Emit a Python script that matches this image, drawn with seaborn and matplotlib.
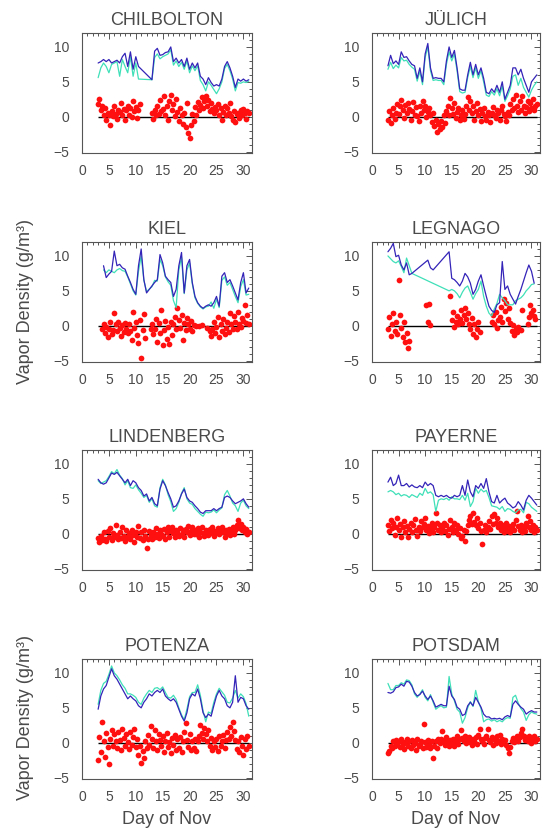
import numpy as np
import pandas as pd
import matplotlib
matplotlib.use('Agg')
from matplotlib import pyplot as plt
from matplotlib.ticker import MultipleLocator
import seaborn as sns

nan = np.nan

# days of November: lines every half day, red points every quarter day
LINE_DAYS = np.arange(3.0, 31.01, 0.5)
RED_DAYS = np.arange(3.0, 31.01, 0.25)

STATIONS = ['CHILBOLTON', 'JÜLICH', 'KIEL', 'LEGNAGO',
            'LINDENBERG', 'PAYERNE', 'POTENZA', 'POTSDAM']

chil_blue = [7.7, 7.9, 8.2, 7.9, 8.2, 7.7, 7.9, 8.1, 7.7, 8.6,
             9.1, 7.2, 9.3, 6.8, 8.6, 7.2, nan, nan, nan, nan,
             5.3, 9.4, 9.8, 8.8, 8.9, 9.2, 9.3, 10.0, 7.9, 8.4,
             7.7, 8.2, 7.2, 8.4, 6.8, 7.7, 7.0, 7.7, 5.8, 5.4,
             4.6, 5.6, 4.9, 4.4, 4.6, 4.4, 5.4, 7.2, 7.9, 7.0,
             5.8, 4.2, 5.4, 5.1, 5.4, 5.1, 5.3]
chil_cyan = [5.6, 7.0, 7.7, 7.2, 6.3, 7.5, 7.7, 7.9, 5.8, 8.2,
             7.2, 6.3, 8.6, 5.8, 7.7, 5.4, nan, nan, nan, nan,
             5.3, 8.5, 9.0, 8.3, 8.6, 8.8, 9.0, 9.6, 7.4, 8.0,
             7.2, 7.8, 6.8, 8.0, 6.3, 7.3, 6.6, 7.3, 5.2, 4.6,
             3.7, 5.0, 4.5, 3.9, 3.3, 4.0, 5.0, 6.9, 7.5, 6.6,
             5.4, 3.7, 4.9, 4.8, 5.0, 4.9, 5.1]
chil_red = [1.8, 2.6, 0.9, 1.5, 0.2, 1.2, -0.5, 0.6,
            0.3, -1.2, 0.8, 0.1, 1.5, 0.4, -0.3, 1.0,
            0.7, 1.9, 0.2, 1.1, -0.4, 0.9, 1.6, 0.3,
            1.2, 0.0, 2.2, 0.8, 1.4, -0.2, 0.9, 1.8,
            nan, nan, nan, nan, nan, nan, nan, nan,
            0.5, -0.3, 0.9, 0.2, 1.6, 0.4, 2.4, 0.8,
            1.1, 2.9, 0.3, 1.5, -0.4, 2.2, 3.1, 0.9,
            1.8, 0.1, 2.6, 0.7, -0.6, 1.3, 0.2, -1.0,
            0.6, -1.5, 1.9, -2.3, -3.0, -1.2, 0.4, -0.6,
            1.4, 0.2, 2.1, 0.9, 1.7, 2.8, 1.2, 2.3,
            3.0, 1.6, 2.4, 0.8, 1.9, 1.1, 0.5, 1.4,
            0.9, 1.8, 0.3, 1.2, -0.5, 0.7, 1.6, 0.2,
            1.3, 0.6, 1.9, 0.1, -0.4, 0.8, -0.7, 0.4,
            0.6, -0.2, 0.9, 0.3, 1.1, 0.5, -0.3, 0.8,
            0.6]

jul_blue = [7.3, 8.8, 7.6, 8.0, 7.5, 9.3, 8.5, 8.6, 8.0, 7.5,
            7.3, 5.5, 7.0, 5.0, 9.0, 10.5, 7.0, 5.5, 5.6, 5.5,
            5.5, 5.0, 8.0, 10.0, 8.5, 9.5, 7.0, 4.0, 3.8, 3.8,
            6.0, 7.8, 6.0, 7.5, 6.0, 7.0, 5.5, 3.5, 3.3, 4.0,
            3.5, 4.5, 3.5, 5.0, 2.5, 3.5, 4.5, 7.0, 7.0, 6.0,
            6.8, 5.5, 4.5, 3.5, 5.0, 5.5, 6.0]
jul_cyan = [6.8, 7.8, 6.9, 7.4, 7.0, 8.5, 8.0, 8.1, 7.5, 7.1,
            6.8, 5.1, 6.5, 4.6, 8.5, 10.0, 6.6, 5.2, 5.3, 5.2,
            5.2, 4.6, 7.5, 9.3, 8.0, 9.0, 6.6, 3.6, 3.4, 3.5,
            5.6, 7.2, 5.6, 7.0, 5.5, 6.6, 5.0, 3.1, 2.9, 3.6,
            3.1, 4.0, 3.0, 4.4, 2.2, 3.0, 4.0, 5.8, 6.0, 4.5,
            5.5, 4.2, 3.5, 2.8, 3.8, 4.5, 5.0]
jul_red = [-0.5, 0.8, -0.9, 0.2, 1.2, -0.3, 0.6, 1.8,
           0.4, 1.5, 2.4, 0.9, -0.2, 1.7, 0.6, 2.0,
           1.1, -0.4, 0.8, 2.1, 0.3, 1.4, 0.1, -0.6,
           1.6, 0.5, 2.3, 0.9, 1.5, -0.1, 0.7, 1.2,
           0.2, -0.8, 0.6, -1.4, -0.5, -2.2, -1.0, -1.8,
           -0.6, -1.5, 0.2, -0.9, 0.8, 1.6, 0.3, 2.7,
           1.2, 0.4, 1.9, -0.2, 0.7, 1.3, -0.5, 0.2,
           0.9, -0.3, 0.4, 1.6, 2.8, 1.0, 2.2, 0.6,
           1.5, -0.4, 0.8, 2.0, 0.3, 1.1, -0.6, 0.5,
           1.2, 0.1, -0.5, 0.7, 0.2, -0.8, 0.6, 1.4,
           0.3, -0.2, 1.0, 0.5, -0.4, 0.9, 1.6, 0.4,
           0.1, -0.6, 0.7, 0.3, 1.8, 0.9, 2.6, 1.3,
           3.1, 1.5, 0.7, 2.2, 1.0, 2.9, 1.6, 0.6,
           1.4, 2.3, 0.8, 1.9, 1.2, 2.5, 0.9, 1.6,
           1.8]

kiel_blue = [nan, nan, 8.6, 6.9, 7.4, 7.8, 10.7, 8.6, 8.8, 8.3,
             8.1, 7.1, 6.2, 5.2, 4.5, 8.6, 11.0, 6.6, 4.7, nan,
             5.7, 6.2, 6.6, 10.2, 9.0, 7.1, 6.6, 6.2, 4.2, 5.2,
             8.6, 10.5, 4.7, 8.6, 9.5, 6.2, 4.2, 3.3, 2.8, 2.5,
             2.8, 3.0, 2.8, 3.3, 4.2, 2.8, 7.1, 7.6, 6.2, 6.6,
             5.7, 4.7, 3.7, 6.2, 7.6, 4.7, 5.4]
kiel_cyan = [nan, nan, 8.0, 7.6, 8.0, 7.8, 7.6, 8.0, 8.2, 7.9,
             7.8, 7.0, 6.0, 5.0, 4.4, 7.8, 10.0, 6.5, 4.9, nan,
             5.6, 6.5, 6.4, 9.5, 8.6, 7.0, 6.3, 5.8, 3.6, 2.6,
             8.0, 9.8, 4.6, 8.0, 9.0, 6.0, 4.0, 3.2, 2.7, 2.4,
             2.7, 2.8, 3.4, 2.5, 3.8, 2.6, 6.5, 7.0, 5.8, 6.2,
             5.2, 4.2, 3.3, 5.6, 6.6, 4.4, 4.5]
kiel_red = [nan, nan, nan, -0.5, 0.3, -1.0, -0.2, -1.6,
            -0.4, 0.5, -1.2, -0.6, 1.8, 0.2, -0.8, 0.6,
            -0.3, -1.5, 0.1, -0.9, 0.4, -0.4, -1.1, 0.2,
            -0.7, -2.0, 1.9, -0.3, 0.5, -1.4, -2.5, 0.8,
            -4.6, -0.6, 1.7, -1.8, nan, nan, nan, -0.5,
            0.3, -1.2, -0.4, 0.9, -2.4, 0.4, -1.0, 2.3,
            -2.8, -0.6, 0.7, -1.9, -0.2, -2.6, 0.5, -1.3,
            0.2, 1.2, -0.5, 2.6, 0.8, -0.3, 1.6, -2.0,
            0.4, -0.6, 1.1, 0.3, -0.4, 0.7, -0.8, 0.1,
            nan, 0.0, nan, -0.1, nan, 0.1, nan, nan,
            nan, -0.3, nan, -0.8, -1.5, -0.4, 0.6, -1.0,
            -0.2, 1.2, -1.6, 0.3, -0.7, 0.9, -1.2, -0.3,
            0.5, -0.9, 1.8, 0.2, -0.5, 1.4, 0.6, -0.4,
            1.9, 0.3, -0.2, 1.1, 0.7, 3.0, 0.4, 1.5,
            0.2]

leg_blue = [10.6, 11.1, 11.8, 9.9, 10.1, 8.7, 8.0, 9.0, 7.3, 7.5,
            nan, nan, nan, nan, nan, 9.4, 8.3, 8.0, nan, nan,
            nan, nan, nan, 10.6, 6.8, 6.6, 6.2, 5.7, 6.4, 7.5,
            7.0, 6.1, 4.5, 5.2, 6.4, 7.3, 5.7, 4.2, 2.8, 2.2,
            1.9, 3.0, 3.3, 9.2, 5.2, 5.7, 4.5, 3.8, 3.1, 4.2,
            5.2, 6.4, 7.6, 8.7, 7.8, 6.1, nan]
leg_cyan = [10.0, 9.6, 9.2, 9.0, 9.3, 8.5, 7.6, 9.7, 8.6, 7.5,
            nan, nan, nan, nan, nan, nan, nan, nan, nan, nan,
            nan, nan, nan, 5.0, 5.2, 5.0, 4.6, 4.0, 4.8, 5.4,
            5.7, 4.8, 3.8, 4.6, 5.2, 6.4, 4.2, 2.8, 1.8, 1.4,
            2.4, 3.2, 4.5, 4.0, 3.6, 3.0, 3.0, 3.0, 3.6, 3.8,
            4.0, 4.4, 5.0, 5.4, 5.9, 6.0, nan]
leg_red = [-0.5, 1.2, -1.5, 0.3, 1.8, -0.8, 0.6, -1.2,
           6.6, 1.5, -0.3, -1.6, 0.5, -2.4, -1.0, -3.2,
           -2.2, nan, nan, nan, nan, nan, nan, nan,
           nan, nan, nan, nan, nan, 2.9, 0.6, 3.1,
           0.1, nan, nan, nan, nan, nan, nan, nan,
           nan, nan, nan, nan, nan, nan, nan, 4.2,
           0.8, 1.9, -0.2, 0.5, 1.4, 0.2, 1.0, 2.2,
           0.4, 1.6, 2.5, 0.9, 1.8, 0.3, -0.5, 1.1,
           -1.2, 0.2, -1.6, -0.4, 0.6, -0.9, nan, nan,
           nan, nan, nan, nan, nan, nan, 0.5, 1.6,
           0.2, 1.9, -0.3, 0.8, 1.2, 2.7, 0.5, 3.8,
           2.1, 3.3, 1.0, 2.6, 0.4, -0.8, 0.1, -1.3,
           -0.4, -0.9, -0.2, nan, -0.6, 2.3, nan, nan,
           nan, 0.3, 1.2, 2.9, 1.8, 2.2, 1.4, 0.9,
           nan]

lind_blue = [7.8, 7.3, 7.1, 7.3, 8.0, 8.7, 8.5, 8.8, 8.3, 7.8,
             7.3, 7.8, 6.9, 7.6, 7.3, 6.6, 6.2, 5.4, 5.7, 4.7,
             5.2, 4.3, 4.0, 6.4, 7.6, 6.9, 5.9, 5.0, 3.8, 4.0,
             4.7, 5.7, 6.4, 5.2, 4.7, 4.5, 4.0, 3.6, 3.1, 2.9,
             3.3, 3.3, 3.3, 3.6, 3.3, 3.6, 3.8, 5.2, 5.4, 5.2,
             4.7, 4.3, 4.5, 4.7, 5.0, 4.3, 3.8]
lind_cyan = [7.6, 7.2, 7.4, 7.6, 8.2, 8.9, 8.6, 9.2, 8.4, 7.9,
             7.0, 7.6, 6.6, 6.5, 7.0, 6.3, 5.8, 5.2, 5.5, 4.5,
             5.0, 4.0, 3.8, 6.6, 7.8, 7.0, 5.6, 4.6, 3.2, 3.6,
             4.5, 5.8, 6.6, 5.0, 4.4, 4.2, 3.6, 3.2, 2.8, 2.5,
             3.1, 3.0, 3.1, 3.4, 3.0, 3.4, 3.7, 5.6, 6.2, 5.4,
             4.4, 4.0, 3.2, 4.4, 4.8, 4.0, 3.6]
lind_red = [-0.6, -1.2, -0.3, -0.9, 0.2, -0.7, -1.1, 0.4,
            -0.4, 0.8, -0.9, 0.1, -0.5, 1.2, -0.2, -0.8,
            0.3, -0.6, 0.9, -0.3, -1.0, 0.5, -0.4, 0.1,
            -0.8, 0.6, -0.2, -1.2, 0.3, -0.5, 1.1, -0.6,
            0.2, -0.9, 0.5, -0.3, -2.0, -0.7, 0.4, -0.2,
            -0.8, 0.3, -0.4, 0.8, -0.1, -0.6, 0.5, 0.0,
            -0.3, 0.7, -0.7, 0.2, 0.9, -0.4, 0.4, 1.0,
            0.1, -0.5, 0.6, 0.2, -0.3, 0.8, 0.0, 0.5,
            -0.4, 0.7, 0.2, 1.1, -0.2, 0.4, 0.9, -0.1,
            0.5, 0.0, 0.8, -0.4, 0.3, 1.0, 0.1, -0.3,
            0.6, 0.2, -0.2, 0.7, 0.1, 0.9, -0.3, 0.4,
            0.3, 0.8, -0.1, 0.5, 1.0, 0.2, -0.4, 0.6,
            0.1, 0.7, -0.2, 0.4, 0.9, 0.0, 0.6, 1.3,
            1.9, 0.8, 1.4, 0.5, 0.9, 0.2, 0.7, -0.1,
            0.3]

pay_blue = [7.4, 8.1, 6.9, 7.2, 8.4, 6.9, 6.9, 7.2, 6.7, 7.0,
            6.7, 6.6, 6.9, 6.6, 7.4, 6.9, 7.2, 6.9, 5.5, 5.3,
            5.5, 5.3, 5.5, 5.2, 5.1, 5.5, 5.3, 5.5, 6.9, 5.5,
            7.7, 6.0, 5.3, 6.9, 6.5, 7.2, 6.5, 7.9, 6.0, 4.6,
            4.4, 5.5, 4.4, 4.8, 5.1, 4.4, 4.1, 3.7, 3.9, 4.6,
            4.1, 3.4, 4.8, 5.5, 5.1, 4.6, 4.1]
pay_cyan = [6.0, 6.2, 6.0, 5.6, 5.8, 5.4, 5.6, 5.5, 5.2, 5.6,
            5.4, 5.2, 5.8, 5.5, 6.5, 5.8, 6.0, 5.6, 3.2, 4.8,
            5.0, 4.9, 5.1, 4.8, 5.3, 5.0, 5.0, 4.9, 5.5, 4.8,
            5.8, 3.9, 4.6, 6.5, 5.8, 6.4, 6.0, 6.2, 5.2, 4.0,
            3.9, 3.8, 3.5, 3.9, 3.2, 3.6, 3.5, 3.2, 3.0, 3.4,
            3.5, 3.0, 4.5, 4.3, 3.8, 3.5, 3.2]
pay_red = [1.2, 0.4, 2.0, 0.8, 1.5, -0.2, 1.0, 2.3,
           0.6, 1.4, -0.4, 0.9, 1.8, 0.3, 1.1, -0.5,
           0.7, 1.6, 0.2, 1.2, 2.1, 0.5, -0.3, 1.0,
           0.4, 1.8, 0.9, 1.4, 2.2, 0.6, 1.1, 0.1,
           0.8, 1.5, 0.3, 1.0, 2.9, 1.6, 0.5, 1.2,
           0.2, 0.9, 1.6, 0.4, 1.2, -0.2, 0.7, 1.9,
           1.0, 0.3, 1.5, 0.6, 1.3, 0.0, 0.8, -0.6,
           -0.3, 0.5, -1.0, 0.4, 1.2, 1.9, 2.6, 1.4,
           2.9, 1.7, 1.2, 2.3, 0.8, 1.5, 0.4, -1.5,
           0.6, 1.3, 0.2, 1.0, 1.8, 0.7, 2.5, 1.4,
           2.8, 1.6, 2.2, 0.9, 1.5, 0.5, 1.2, 0.3,
           0.9, 1.6, 0.4, 1.1, 0.2, 0.8, 1.4, 0.5,
           2.0, 3.2, 1.1, 0.6, 1.3, 0.2, 0.9, 0.4,
           1.5, 2.6, 1.0, 1.8, 0.6, 1.3, 0.3, 0.9,
           0.5]

pot_blue = [4.8, 6.7, 7.7, 8.2, 9.4, 10.6, 9.6, 9.1, 8.4, 7.7,
            7.0, 6.3, 6.7, 6.3, 6.0, 5.3, 5.0, 5.8, 6.3, 7.0,
            6.7, 7.2, 7.5, 7.2, 7.7, 6.7, 6.3, 6.0, 6.3, 5.8,
            4.8, 3.8, 3.1, 4.3, 6.3, 7.0, 6.7, 7.7, 6.3, 4.3,
            3.6, 4.1, 3.8, 5.3, 6.7, 7.5, 6.7, 6.3, 5.3, 5.0,
            5.8, 9.6, 5.8, 6.5, 6.3, 5.3, 4.8]
pot_cyan = [5.5, 7.5, 8.5, 8.8, 9.8, 11.0, 10.0, 9.6, 9.0, 8.3,
            7.8, 7.0, 7.0, 6.8, 6.5, 5.8, 5.5, 6.4, 7.0, 7.5,
            7.2, 7.8, 7.9, 7.6, 8.0, 7.2, 6.5, 6.4, 6.8, 6.2,
            5.0, 4.0, 3.3, 4.8, 6.6, 7.2, 7.2, 8.3, 6.8, 4.6,
            3.0, 4.4, 4.2, 5.8, 7.0, 7.8, 7.3, 6.8, 5.8, 5.7,
            6.4, 7.5, 6.4, 7.0, 6.6, 5.6, 3.8]
pot_red = [-2.5, 0.8, -1.4, 2.9, 0.3, -2.0, 1.4, -0.6,
           -3.0, 0.6, 1.8, -0.4, 1.2, 0.2, -0.8, 1.5,
           0.4, -1.0, 1.9, 0.7, -0.5, 1.3, 0.1, -0.9,
           1.6, -0.3, 0.8, 2.0, -0.6, 0.5, -1.8, -0.4,
           -2.9, -1.2, -2.2, 0.3, -0.8, 1.1, -0.3, 2.4,
           0.6, -0.7, 1.8, 0.2, -1.1, 1.3, 0.4, -0.5,
           0.9, -1.3, 0.3, 1.4, -0.6, 0.1, -1.5, 0.7,
           -0.3, 1.1, -1.0, 0.5, -0.7, 0.8, -1.4, 0.2,
           1.5, 2.8, 0.4, -0.6, 1.2, -1.1, 0.3, -0.8,
           0.6, -1.2, 0.2, 1.0, 2.6, 1.4, 0.5, 2.1,
           1.2, 0.3, 1.8, -0.5, 0.7, -1.0, 0.2, -0.6,
           0.5, -1.2, 0.9, -0.4, 0.2, 1.1, -0.8, 0.4,
           1.5, 0.6, 2.2, 1.0, 3.0, 1.7, 0.4, -0.9,
           0.3, -1.4, 0.8, -0.5, -1.8, 0.6, -0.9, 1.0,
           -0.4]

pdm_blue = [7.2, 7.1, 7.3, 7.9, 8.0, 8.4, 8.1, 8.8, 8.7, 8.1,
            7.2, 6.7, 6.9, 7.4, 6.7, 6.2, 6.7, 6.0, 5.1, 5.3,
            5.5, 5.3, 5.3, 8.1, 6.7, 6.2, 5.1, 4.8, 3.9, 4.1,
            5.3, 5.8, 5.3, 6.5, 5.8, 5.1, 4.1, 3.7, 3.7, 3.4,
            3.5, 3.4, 3.5, 3.3, 3.7, 3.9, 3.7, 5.5, 6.0, 5.5,
            5.1, 4.8, 4.1, 4.4, 4.6, 4.4, 4.4]
pdm_cyan = [8.5, 7.6, 7.6, 8.2, 8.2, 8.6, 8.4, 9.0, 8.9, 8.3,
            7.0, 6.5, 7.0, 7.6, 6.5, 6.0, 6.9, 5.8, 4.8, 5.1,
            5.3, 5.0, 5.1, 9.5, 7.0, 6.0, 4.8, 4.4, 2.8, 3.6,
            5.0, 5.9, 5.2, 7.5, 5.9, 4.9, 3.0, 3.3, 3.4, 3.1,
            3.3, 3.0, 3.2, 3.0, 3.4, 3.6, 3.5, 6.5, 6.8, 5.7,
            4.9, 4.4, 3.2, 4.0, 4.4, 4.2, 4.1]
pdm_red = [-1.5, -1.2, -0.4, -0.8, 0.2, -0.5, 0.4, -0.2,
           0.3, -0.6, 0.5, -0.2, -0.9, 0.1, 0.6, -0.4,
           0.2, -0.7, 0.4, -0.3, 0.0, -1.0, 0.5, -0.5,
           -0.2, 0.3, -0.8, 2.7, 0.1, -0.6, 0.4, -0.3,
           -0.7, 0.2, -2.2, -0.4, 0.3, -0.8, 0.5, 0.0,
           0.6, 1.7, 0.2, -0.3, 0.8, 0.1, -0.5, 0.4,
           0.0, 0.6, -0.4, 0.3, 0.9, -0.2, 0.5, 1.8,
           0.7, 0.2, 0.9, -0.1, 0.4, 0.8, 0.1, -0.3,
           0.5, 0.2, 0.8, -0.2, 1.1, 1.9, 0.6, 0.3,
           -0.2, 0.7, 1.0, 2.0, 0.4, 0.1, 0.8, -0.3,
           0.5, 0.0, 0.9, 0.3, 1.1, -0.2, 0.6, 0.2,
           0.4, -0.3, -0.8, -1.5, -0.6, 0.2, 0.7, 0.1,
           0.6, 1.0, 0.3, 0.8, 1.4, 2.0, 0.9, 0.4,
           0.7, 0.2, 1.0, 0.5, -0.1, 0.6, 0.9, 0.3,
           0.5]

BLUE = [chil_blue, jul_blue, kiel_blue, leg_blue, lind_blue, pay_blue, pot_blue, pdm_blue]
CYAN = [chil_cyan, jul_cyan, kiel_cyan, leg_cyan, lind_cyan, pay_cyan, pot_cyan, pdm_cyan]
RED = [chil_red, jul_red, kiel_red, leg_red, lind_red, pay_red, pot_red, pdm_red]

sns.set_style('white')
plt.rcParams['font.family'] = ['Liberation Sans', 'DejaVu Sans']
TXT = '#4a4a4a'

fig = plt.figure(figsize=(5.49, 8.32), dpi=100)
W, H = 549.0, 832.0
col_left = [82, 372]
col_width = [170, 168]
row_bottom = [153, 362, 570, 779]
ax_h = 120

for i, name in enumerate(STATIONS):
    r, c = i // 2, i % 2
    ax = fig.add_axes([col_left[c] / W, 1 - row_bottom[r] / H,
                       col_width[c] / W, ax_h / H])

    line_df = pd.DataFrame({'day': LINE_DAYS, 'blue': BLUE[i], 'cyan': CYAN[i]})
    red_df = pd.DataFrame({'day': RED_DAYS, 'val': RED[i]}).dropna()

    ax.hlines(0, LINE_DAYS[0], LINE_DAYS[-1], color='black', lw=1.0, zorder=1)
    sns.scatterplot(data=red_df, x='day', y='val', ax=ax, color='#ff1010',
                    s=17, linewidth=0, marker='o', zorder=2, legend=False)
    cdf = line_df[['day', 'cyan']].dropna()
    sns.lineplot(data=cdf, x='day', y='cyan', ax=ax, color='#3fe0b8',
                 lw=0.9, estimator=None, sort=False, zorder=3)
    bdf = line_df[['day', 'blue']].dropna()
    sns.lineplot(data=bdf, x='day', y='blue', ax=ax, color='#3424b8',
                 lw=0.9, estimator=None, sort=False, zorder=4)

    ax.set_xlim(0, 31.6)
    ax.set_ylim(-5.2, 12)
    ax.xaxis.set_major_locator(MultipleLocator(5))
    ax.xaxis.set_minor_locator(MultipleLocator(1))
    ax.yaxis.set_major_locator(MultipleLocator(5))
    ax.yaxis.set_minor_locator(MultipleLocator(1))
    ax.tick_params(which='both', direction='in', top=True, right=True,
                   color='#555555', width=0.7)
    ax.tick_params(which='major', length=4, labelsize=10, labelcolor=TXT)
    ax.tick_params(axis='x', which='major', pad=8)
    ax.tick_params(axis='y', which='major', pad=9)
    ax.tick_params(which='minor', length=2)
    for sp in ax.spines.values():
        sp.set_color('#555555')
        sp.set_linewidth(0.8)
    ax.set_xlabel('')
    ax.set_ylabel('')
    ax.set_title(name, fontsize=13, color=TXT, pad=6)

# shared axis labels
for yc in [302, 718]:
    fig.text(26 / W, 1 - yc / H, 'Vapor Density (g/m³)', rotation=90,
             ha='center', va='center', fontsize=13, color=TXT)
for xc in [167, 456]:
    fig.text(xc / W, 1 - 819 / H, 'Day of Nov', ha='center', va='center',
             fontsize=13, color=TXT)

fig.savefig('out.png', dpi=100)
